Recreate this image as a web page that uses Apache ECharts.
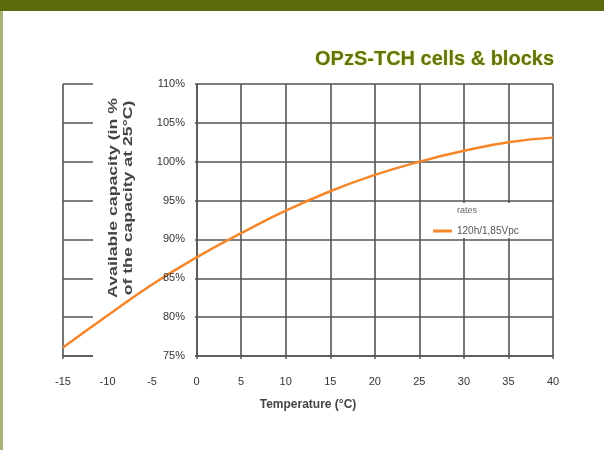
<!DOCTYPE html>
<html>
<head>
<meta charset="utf-8">
<script src="https://cdn.jsdelivr.net/npm/echarts@6/dist/echarts.min.js"></script>
<style>html,body{margin:0;padding:0;background:#fff}#c{width:604px;height:450px}</style>
</head>
<body>
<div id="c"></div>
<script>
var temperatures = [-15, -10, -5, 0, 5, 10, 15, 20, 25, 30, 35, 40];
var capacity = [76.1, 80.2, 84.2, 87.7, 90.8, 93.7, 96.2, 98.3, 100.0, 101.4, 102.5, 103.1];
var seriesName = '120h/1,85Vpc';
var legendTitle = 'rates';
var chartTitle = 'OPzS-TCH cells & blocks';
var xName = 'Temperature (°C)';
var yNameLines = ['Available capacity (in %', 'of the capacity at 25°C)'];

var FONT = '"Liberation Sans", Arial, sans-serif';
var GRID = '#555';
var chart = echarts.init(document.getElementById('c'), null, {renderer: 'canvas'});
var data = temperatures.map(function (t, i) { return [t, capacity[i]]; });

chart.setOption({
  animation: false,
  backgroundColor: '#fff',
  textStyle: {fontFamily: FONT},
  title: {
    text: chartTitle,
    right: 45, top: 44,
    textStyle: {fontFamily: FONT, fontSize: 20, fontWeight: 'bold', color: '#5f7311',
      textShadowColor: 'rgba(230,220,80,0.9)', textShadowBlur: 2}
  },
  grid: {left: 63, right: 51, top: 84, bottom: 94, containLabel: false},
  legend: {
    data: [seriesName],
    left: 428, top: 221,
    icon: 'rect', itemWidth: 19, itemHeight: 3, itemGap: 4,
    textStyle: {fontFamily: FONT, fontSize: 10, color: '#555'},
    z: 6
  },
  xAxis: {
    type: 'value', min: -15, max: 40, interval: 5,
    name: xName, nameLocation: 'middle', nameGap: 43,
    nameTextStyle: {fontFamily: FONT, fontSize: 12, fontWeight: 'bold', color: '#444'},
    axisLine: {show: true, onZero: false, lineStyle: {color: GRID, width: 1.5}},
    axisTick: {show: true, length: 3, lineStyle: {color: GRID, width: 1.5}},
    axisLabel: {fontFamily: FONT, fontSize: 11, color: '#333', margin: 20},
    splitLine: {show: true, lineStyle: {color: GRID, width: 1.6}},
    z: 0
  },
  yAxis: [{
    type: 'value', min: 75, max: 110, interval: 5,
    axisLine: {show: true, lineStyle: {color: GRID, width: 1.5}},
    axisTick: {show: false},
    axisLabel: {show: false},
    splitLine: {show: true, lineStyle: {color: GRID, width: 1.6}},
    z: 0
  }, {
    type: 'value', min: 75, max: 110, interval: 5,
    position: 'left', offset: -133,
    axisLine: {show: false}, axisTick: {show: false},
    splitLine: {show: false},
    axisLabel: {fontFamily: FONT, fontSize: 11, color: '#333', margin: 11,
      formatter: function (v) { return v + '%'; }},
    z: 5
  }],
  series: [{
    name: seriesName, type: 'line', data: data, smooth: true,
    showSymbol: false, symbol: 'none',
    lineStyle: {color: '#f5862a', width: 2.5},
    itemStyle: {color: '#f5862a'},
    z: 3
  }],
  graphic: [
    {type: 'rect', shape: {x: 0, y: 0, width: 604, height: 11}, style: {fill: '#5b6c0e'}, z: 10},
    {type: 'rect', shape: {x: 0, y: 11, width: 3, height: 439}, style: {fill: '#aab37a'}, z: 10},
    {type: 'rect', shape: {x: 93, y: 72, width: 102, height: 290}, style: {fill: '#fff'}, z: 1},
    {type: 'rect', shape: {x: 422, y: 203, width: 114, height: 35}, style: {fill: '#fff'}, z: 1},
    {type: 'text', x: 457, y: 211, style: {text: legendTitle, font: '9px ' + FONT, fill: '#666',
      verticalAlign: 'middle'}, z: 6},
    {type: 'text', x: 121, y: 198, rotation: Math.PI / 2, scaleX: 1.36, scaleY: 1,
      style: {text: yNameLines.join('\n'), font: 'bold 13px ' + FONT, fill: '#444',
        align: 'center', verticalAlign: 'middle', lineHeight: 15}, z: 6}
  ]
});
</script>
</body>
</html>
